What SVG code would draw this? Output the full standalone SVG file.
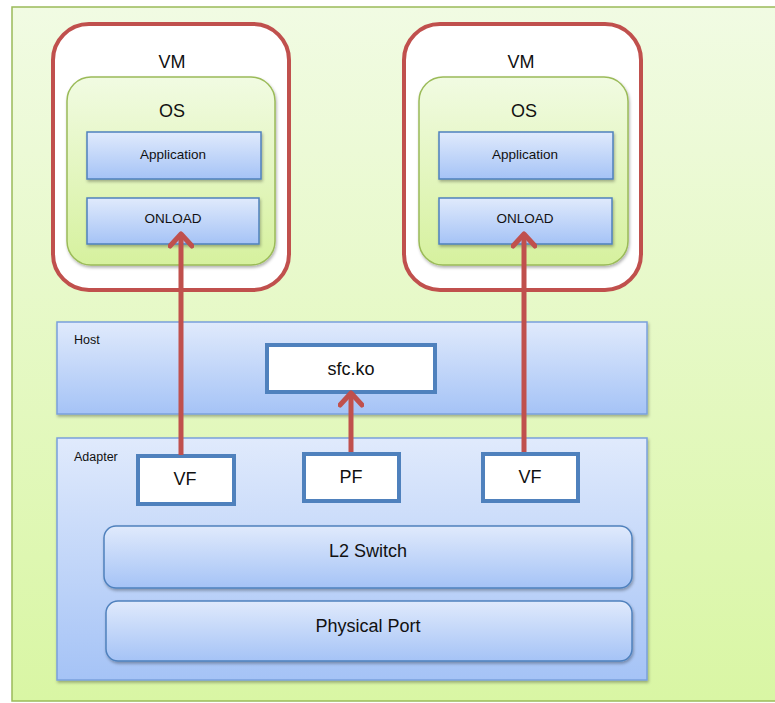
<svg xmlns="http://www.w3.org/2000/svg" width="775" height="703" viewBox="0 0 775 703">
<defs>
<linearGradient id="gBg" x1="0" y1="0" x2="0" y2="1"><stop offset="0" stop-color="#f1fbe3"/><stop offset="1" stop-color="#d9f6a4"/></linearGradient>
<linearGradient id="gOs" x1="0" y1="0" x2="0" y2="1"><stop offset="0" stop-color="#f1fbe2"/><stop offset="1" stop-color="#d6f19e"/></linearGradient>
<linearGradient id="gBlue" x1="0" y1="0" x2="0" y2="1"><stop offset="0" stop-color="#e0eafc"/><stop offset="1" stop-color="#a5c3f6"/></linearGradient>
<filter id="sh" x="-10%" y="-10%" width="120%" height="130%"><feDropShadow dx="1" dy="2" stdDeviation="1.5" flood-color="#000" flood-opacity="0.3"/></filter>
<marker id="arr" viewBox="0 0 24 26" refX="18" refY="13" markerWidth="24" markerHeight="26" markerUnits="userSpaceOnUse" orient="auto">
<path d="M8,2 L20,13 L8,24" fill="none" stroke="#c0504d" stroke-width="5" stroke-linecap="round" stroke-linejoin="round"/>
</marker>
</defs>
<style>
text{font-family:"Liberation Sans","Open Sans",Arial,sans-serif;fill:#111;text-anchor:middle;dominant-baseline:central}
.vm{fill:#fff;stroke:#c0504d;stroke-width:4}
.os{fill:url(#gOs);stroke:#9bbb59;stroke-width:1.5}
.blue{fill:url(#gBlue);stroke:#4f81bd;stroke-width:1.5}
.pane{fill:url(#gBlue);stroke:#7aa0dc;stroke-width:1.5}
.wb{fill:#fff;stroke:#4f81bd;stroke-width:4}
.big{font-size:18px}
.sm{font-size:13.5px}
.lbl{font-size:12.5px;text-anchor:start}
.conn{stroke:#c0504d;stroke-width:5;fill:none}
</style>
<rect x="12" y="7" width="775" height="694" fill="url(#gBg)" stroke="#9bbb59" stroke-width="1.5"/>

<g id="vm1">
<rect class="vm" x="53" y="24" width="236" height="266" rx="36"/>
<text class="big" x="172" y="62">VM</text>
<rect class="os" x="67" y="77" width="208" height="188" rx="24" filter="url(#sh)"/>
<text class="big" x="172" y="111">OS</text>
</g>
<g id="app1"><rect class="blue" x="87" y="132" width="174" height="47" filter="url(#sh)"/><text class="sm" x="173" y="154">Application</text></g>
<g id="onload1"><rect class="blue" x="87" y="198" width="172" height="46" filter="url(#sh)"/><text class="sm" x="173" y="218">ONLOAD</text></g>

<g id="vm2">
<rect class="vm" x="404" y="24" width="237" height="266" rx="36"/>
<text class="big" x="521" y="62">VM</text>
<rect class="os" x="419" y="77" width="209" height="188" rx="24" filter="url(#sh)"/>
<text class="big" x="524" y="111">OS</text>
</g>
<g id="app2"><rect class="blue" x="439" y="132" width="174" height="47" filter="url(#sh)"/><text class="sm" x="525" y="154">Application</text></g>
<g id="onload2"><rect class="blue" x="439" y="198" width="173" height="46" filter="url(#sh)"/><text class="sm" x="525" y="218">ONLOAD</text></g>

<g id="host">
<rect class="pane" x="57" y="322" width="590" height="92" filter="url(#sh)"/>
<text class="lbl" x="74" y="340">Host</text>
</g>
<g id="sfcko"><rect class="wb" x="267" y="345" width="168" height="47"/><text class="big" x="351" y="369">sfc.ko</text></g>

<g id="adapter">
<rect class="pane" x="57" y="438" width="590" height="242" filter="url(#sh)"/>
<text class="lbl" x="74" y="457">Adapter</text>
</g>
<g id="vf1"><rect class="wb" x="138" y="456" width="96" height="48"/><text class="big" x="185" y="479">VF</text></g>
<g id="pf"><rect class="wb" x="304" y="454" width="95" height="47"/><text class="big" x="351" y="477">PF</text></g>
<g id="vf2"><rect class="wb" x="483" y="454" width="95" height="47"/><text class="big" x="530" y="477">VF</text></g>
<g id="l2switch"><rect class="blue" x="104" y="526" width="528" height="62" rx="12" filter="url(#sh)"/><text class="big" x="368" y="551">L2 Switch</text></g>
<g id="physport"><rect class="blue" x="106" y="601" width="526" height="60" rx="12" filter="url(#sh)"/><text class="big" x="368" y="626">Physical Port</text></g>

<g id="connectors">
<line class="conn" x1="181" y1="455" x2="181" y2="236" marker-end="url(#arr)"/>
<line class="conn" x1="351" y1="452" x2="351" y2="395" marker-end="url(#arr)"/>
<line class="conn" x1="524" y1="452" x2="524" y2="236" marker-end="url(#arr)"/>
</g>
</svg>
